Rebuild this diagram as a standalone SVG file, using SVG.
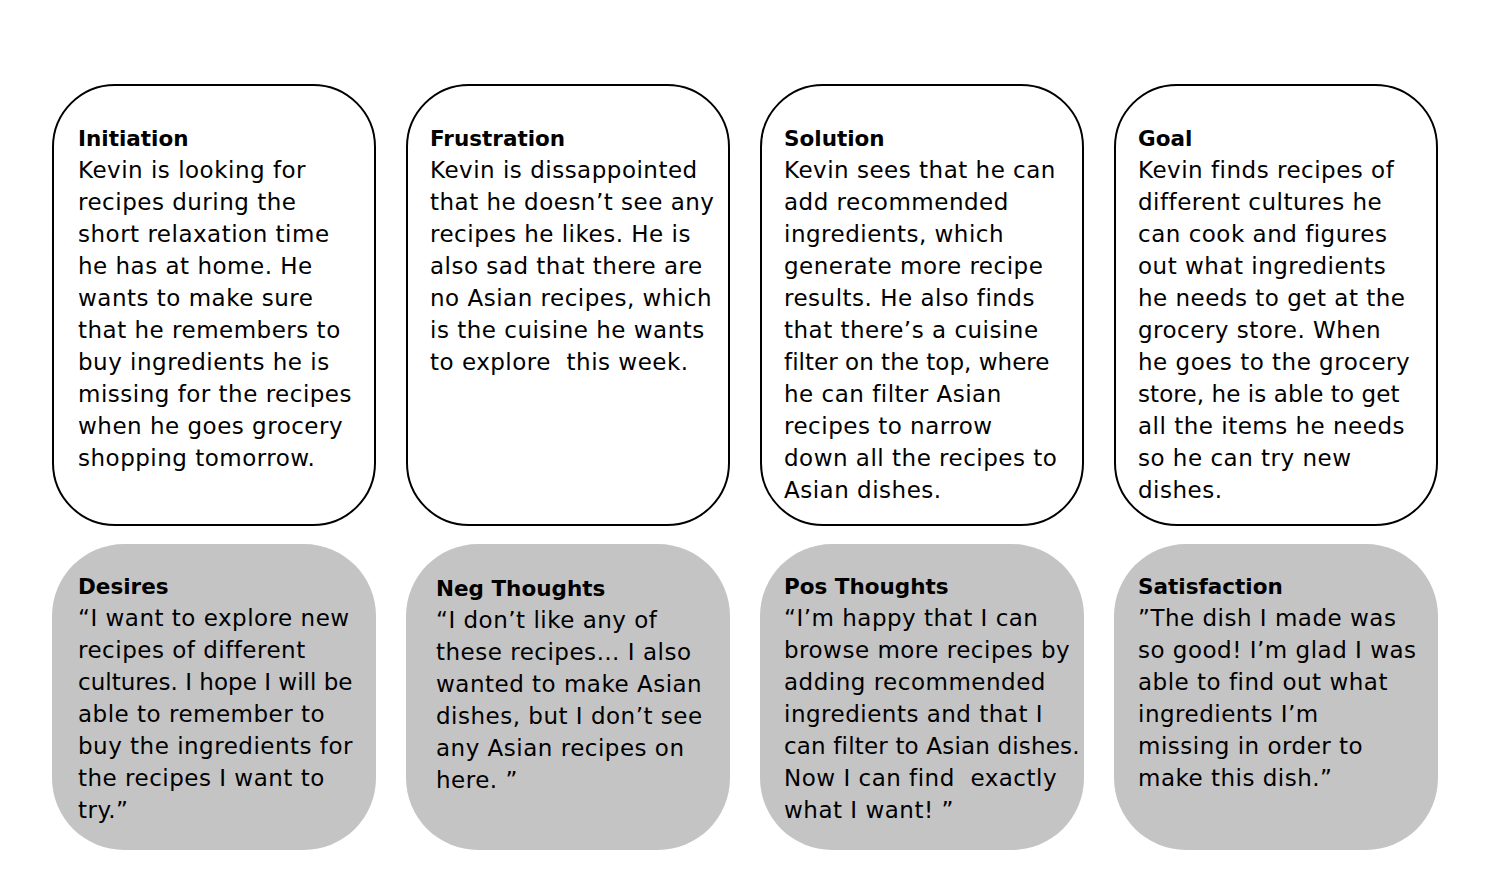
<svg xmlns="http://www.w3.org/2000/svg" width="1488" height="878" viewBox="0 0 1488 878">
<style>
.top{fill:#fff;stroke:#000;stroke-width:2}
.bot{fill:#c4c4c4;stroke:none}
text{font-family:"DejaVu Sans","Liberation Sans",sans-serif;font-size:23px;letter-spacing:0.5px;fill:#000}
text.t{font-weight:bold;font-size:21.5px;letter-spacing:0}
</style>
<rect width="1488" height="878" fill="#fff"/>
<g id="initiation">
<rect class="top" x="53" y="85" width="322" height="440" rx="62"/>
<text x="78" y="146" class="t">Initiation</text>
<text xml:space="preserve"><tspan x="78" y="178">Kevin is looking for</tspan><tspan x="78" y="210">recipes during the</tspan><tspan x="78" y="242">short relaxation time</tspan><tspan x="78" y="274">he has at home. He</tspan><tspan x="78" y="306">wants to make sure</tspan><tspan x="78" y="338">that he remembers to</tspan><tspan x="78" y="370">buy ingredients he is</tspan><tspan x="78" y="402">missing for the recipes</tspan><tspan x="78" y="434">when he goes grocery</tspan><tspan x="78" y="466">shopping tomorrow.</tspan></text>
</g>
<g id="frustration">
<rect class="top" x="407" y="85" width="322" height="440" rx="62"/>
<text x="430" y="146" class="t">Frustration</text>
<text xml:space="preserve"><tspan x="430" y="178">Kevin is dissappointed</tspan><tspan x="430" y="210">that he doesn’t see any</tspan><tspan x="430" y="242">recipes he likes. He is</tspan><tspan x="430" y="274">also sad that there are</tspan><tspan x="430" y="306">no Asian recipes, which</tspan><tspan x="430" y="338">is the cuisine he wants</tspan><tspan x="430" y="370">to explore  this week.</tspan></text>
</g>
<g id="solution">
<rect class="top" x="761" y="85" width="322" height="440" rx="62"/>
<text x="784" y="146" class="t">Solution</text>
<text xml:space="preserve"><tspan x="784" y="178">Kevin sees that he can</tspan><tspan x="784" y="210">add recommended</tspan><tspan x="784" y="242">ingredients, which</tspan><tspan x="784" y="274">generate more recipe</tspan><tspan x="784" y="306">results. He also finds</tspan><tspan x="784" y="338">that there’s a cuisine</tspan><tspan x="784" y="370" textLength="266" lengthAdjust="spacing">filter on the top, where</tspan><tspan x="784" y="402">he can filter Asian</tspan><tspan x="784" y="434">recipes to narrow</tspan><tspan x="784" y="466">down all the recipes to</tspan><tspan x="784" y="498">Asian dishes.</tspan></text>
</g>
<g id="goal">
<rect class="top" x="1115" y="85" width="322" height="440" rx="62"/>
<text x="1138" y="146" class="t">Goal</text>
<text xml:space="preserve"><tspan x="1138" y="178">Kevin finds recipes of</tspan><tspan x="1138" y="210">different cultures he</tspan><tspan x="1138" y="242">can cook and figures</tspan><tspan x="1138" y="274">out what ingredients</tspan><tspan x="1138" y="306">he needs to get at the</tspan><tspan x="1138" y="338">grocery store. When</tspan><tspan x="1138" y="370">he goes to the grocery</tspan><tspan x="1138" y="402" textLength="262" lengthAdjust="spacing">store, he is able to get</tspan><tspan x="1138" y="434">all the items he needs</tspan><tspan x="1138" y="466">so he can try new</tspan><tspan x="1138" y="498">dishes.</tspan></text>
</g>
<g id="desires">
<rect class="bot" x="52" y="544" width="324" height="306" rx="72"/>
<text x="78" y="594" class="t">Desires</text>
<text xml:space="preserve"><tspan x="78" y="626">“I want to explore new</tspan><tspan x="78" y="658">recipes of different</tspan><tspan x="78" y="690" textLength="275" lengthAdjust="spacing">cultures. I hope I will be</tspan><tspan x="78" y="722">able to remember to</tspan><tspan x="78" y="754">buy the ingredients for</tspan><tspan x="78" y="786">the recipes I want to</tspan><tspan x="78" y="818">try.”</tspan></text>
</g>
<g id="neg-thoughts">
<rect class="bot" x="406" y="544" width="324" height="306" rx="72"/>
<text x="436" y="596" class="t">Neg Thoughts</text>
<text xml:space="preserve"><tspan x="436" y="628">“I don’t like any of</tspan><tspan x="436" y="660">these recipes… I also</tspan><tspan x="436" y="692">wanted to make Asian</tspan><tspan x="436" y="724">dishes, but I don’t see</tspan><tspan x="436" y="756">any Asian recipes on</tspan><tspan x="436" y="788">here. ”</tspan></text>
</g>
<g id="pos-thoughts">
<rect class="bot" x="760" y="544" width="324" height="306" rx="72"/>
<text x="784" y="594" class="t">Pos Thoughts</text>
<text xml:space="preserve"><tspan x="784" y="626">“I’m happy that I can</tspan><tspan x="784" y="658">browse more recipes by</tspan><tspan x="784" y="690">adding recommended</tspan><tspan x="784" y="722">ingredients and that I</tspan><tspan x="784" y="754" textLength="296" lengthAdjust="spacing">can filter to Asian dishes.</tspan><tspan x="784" y="786">Now I can find  exactly</tspan><tspan x="784" y="818">what I want! ”</tspan></text>
</g>
<g id="satisfaction">
<rect class="bot" x="1114" y="544" width="324" height="306" rx="72"/>
<text x="1138" y="594" class="t">Satisfaction</text>
<text xml:space="preserve"><tspan x="1138" y="626">”The dish I made was</tspan><tspan x="1138" y="658">so good! I’m glad I was</tspan><tspan x="1138" y="690">able to find out what</tspan><tspan x="1138" y="722">ingredients I’m</tspan><tspan x="1138" y="754">missing in order to</tspan><tspan x="1138" y="786">make this dish.”</tspan></text>
</g>
<g id="connectors"></g>
</svg>
